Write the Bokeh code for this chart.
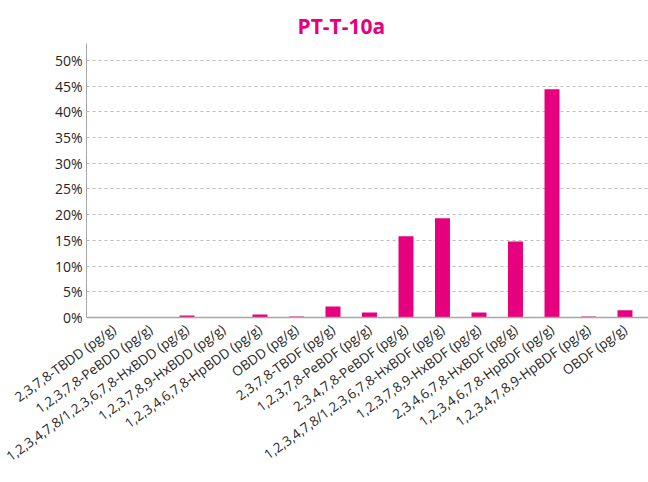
from bokeh.plotting import figure
from bokeh.models import Range1d, FixedTicker, NumeralTickFormatter, ColumnDataSource
from bokeh.embed import file_html
from bokeh.resources import INLINE
import math

categories = [
    "2,3,7,8-TBDD (pg/g)",
    "1,2,3,7,8-PeBDD (pg/g)",
    "1,2,3,4,7,8/1,2,3,6,7,8-HxBDD (pg/g)",
    "1,2,3,7,8,9-HxBDD (pg/g)",
    "1,2,3,4,6,7,8-HpBDD (pg/g)",
    "OBDD (pg/g)",
    "2,3,7,8-TBDF (pg/g)",
    "1,2,3,7,8-PeBDF (pg/g)",
    "2,3,4,7,8-PeBDF (pg/g)",
    "1,2,3,4,7,8/1,2,3,6,7,8-HxBDF (pg/g)",
    "1,2,3,7,8,9-HxBDF (pg/g)",
    "2,3,4,6,7,8-HxBDF (pg/g)",
    "1,2,3,4,6,7,8-HpBDF (pg/g)",
    "1,2,3,4,7,8,9-HpBDF (pg/g)",
    "OBDF (pg/g)",
]
values = [0.0, 0.0, 0.004, 0.0, 0.006, 0.002, 0.0215, 0.0097, 0.158, 0.193,
          0.0097, 0.148, 0.444, 0.002, 0.014]
y_ticks = [0.0, 0.05, 0.10, 0.15, 0.20, 0.25, 0.30, 0.35, 0.40, 0.45, 0.50]

PINK = "#E6007E"
FONT = "Open Sans"

xs = list(range(len(categories)))
src = ColumnDataSource(dict(x=xs, top=values))

p = figure(
    frame_width=562, frame_height=274,
    min_border_left=86, min_border_right=0, min_border_top=43, min_border_bottom=165,
    x_range=Range1d(-0.753, 14.644), y_range=Range1d(0, 0.533),
    output_backend="svg", toolbar_location=None, title="PT-T-10a",
)
p.vbar(x="x", top="top", width=0.41, source=src, color=PINK, line_color=None)

p.title.text_color = PINK
p.title.text_font = FONT
p.title.text_font_size = "21px"
p.title.text_font_style = "bold"
p.title.align = "left"
p.title.offset = 211
p.title.standoff = 7

p.outline_line_color = None
p.background_fill_color = "white"
p.border_fill_color = "white"

p.xgrid.visible = False
p.ygrid.ticker = FixedTicker(ticks=y_ticks)
p.ygrid.grid_line_color = "#BDBDBD"
p.ygrid.grid_line_dash = "3 3"
p.ygrid.grid_line_width = 1

p.yaxis.ticker = FixedTicker(ticks=y_ticks)
p.yaxis.formatter = NumeralTickFormatter(format="0%")
p.yaxis.axis_line_color = "#A6A6A6"
p.yaxis.axis_line_width = 1
p.yaxis.major_tick_line_color = None
p.yaxis.minor_tick_line_color = None
p.yaxis.major_tick_out = 0
p.yaxis.major_label_standoff = 4
p.yaxis.major_label_text_font = FONT
p.yaxis.major_label_text_font_size = "14px"
p.yaxis.major_label_text_color = "#262626"

p.xaxis.ticker = FixedTicker(ticks=xs)
p.xaxis.major_label_overrides = {i: c for i, c in enumerate(categories)}
p.xaxis.major_label_orientation = math.radians(36)
p.xaxis.axis_line_color = "#A6A6A6"
p.xaxis.axis_line_width = 1.5
p.xaxis.major_tick_line_color = None
p.xaxis.minor_tick_line_color = None
p.xaxis.major_tick_out = 0
p.xaxis.major_label_standoff = 10
p.xaxis.major_label_text_font = FONT
p.xaxis.major_label_text_font_size = "13.5px"
p.xaxis.major_label_text_color = "#262626"

open("out.html", "w").write(file_html(p, INLINE))
